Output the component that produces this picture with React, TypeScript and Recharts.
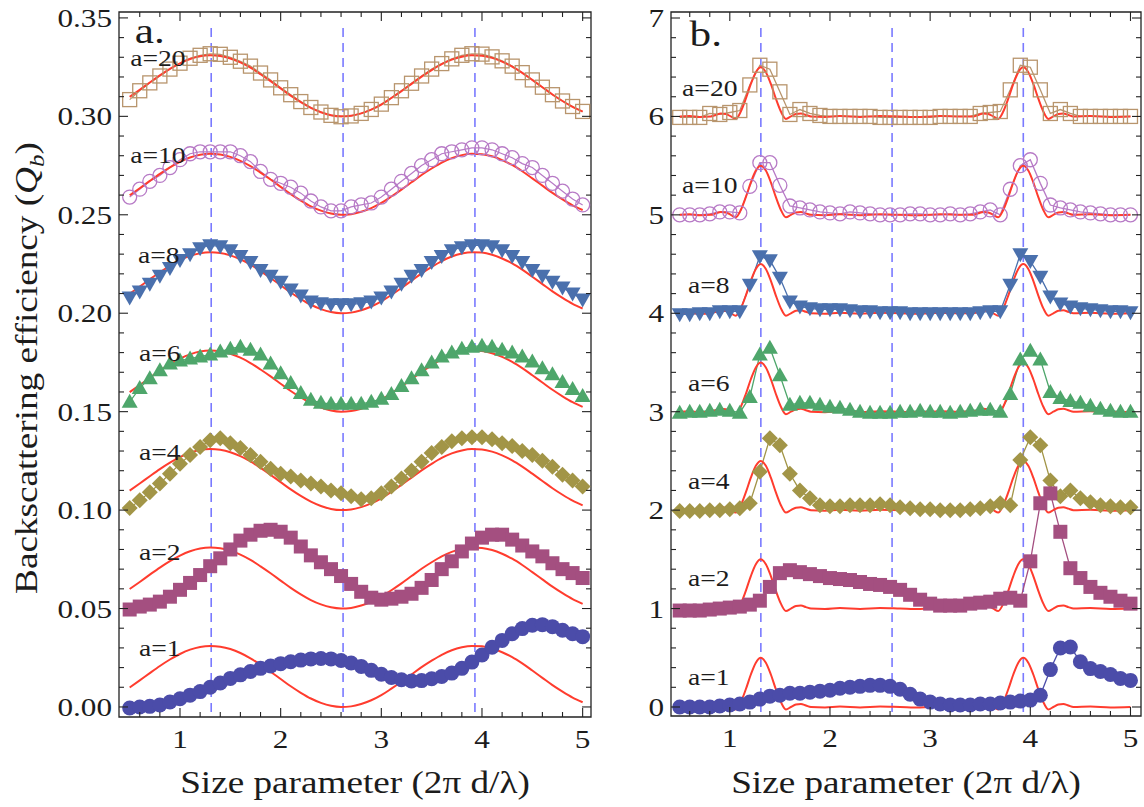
import React from "react";
import {
  LineChart,
  Line,
  XAxis,
  YAxis,
  ReferenceLine,
  ReferenceDot,
  ReferenceArea,
} from "recharts";

const FONT = '"Liberation Serif", "Times New Roman", Times, serif';
const SX = 1.2; // the figure's glyphs run wider than plain Times
const INK = "#222";
const RED = "#ff3c2e";
const DASH = "#7a7aff";

// size parameter of the sampled points (both panels)
const sizeGrid = [
  0.5, 0.6, 0.7, 0.8, 0.9, 1.0, 1.1, 1.2, 1.3, 1.4, 1.5, 1.6, 1.7, 1.8, 1.9, 2.0,
  2.1, 2.2, 2.3, 2.4, 2.5, 2.6, 2.7, 2.8, 2.9, 3.0, 3.1, 3.2, 3.3, 3.4, 3.5, 3.6,
  3.7, 3.8, 3.9, 4.0, 4.1, 4.2, 4.3, 4.4, 4.5, 4.6, 4.7, 4.8, 4.9, 5.0,
];

// ---- panel a: simulated points ----
const qbA20 = [0.3085, 0.313, 0.317, 0.3205, 0.324, 0.327, 0.3295, 0.331, 0.3318, 0.3315, 0.33, 0.328, 0.3255, 0.322, 0.3185, 0.3145, 0.311, 0.3075, 0.3045, 0.3022, 0.3005, 0.2998, 0.3002, 0.3015, 0.3035, 0.3062, 0.3095, 0.313, 0.3168, 0.3205, 0.324, 0.3268, 0.3292, 0.331, 0.3318, 0.3316, 0.3302, 0.3282, 0.3255, 0.3222, 0.3185, 0.3148, 0.311, 0.3078, 0.305, 0.3025];
const qbA10 = [0.259, 0.263, 0.267, 0.27, 0.274, 0.278, 0.281, 0.282, 0.282, 0.282, 0.282, 0.28, 0.277, 0.272, 0.268, 0.266, 0.264, 0.261, 0.257, 0.254, 0.252, 0.252, 0.254, 0.255, 0.256, 0.259, 0.263, 0.267, 0.271, 0.275, 0.278, 0.281, 0.282, 0.283, 0.284, 0.284, 0.283, 0.281, 0.279, 0.276, 0.274, 0.27, 0.266, 0.262, 0.258, 0.255];
const qbA8 = [0.208, 0.211, 0.215, 0.219, 0.223, 0.227, 0.23, 0.233, 0.2345, 0.234, 0.232, 0.229, 0.226, 0.222, 0.219, 0.216, 0.212, 0.209, 0.206, 0.205, 0.2045, 0.2045, 0.2045, 0.205, 0.206, 0.208, 0.211, 0.215, 0.219, 0.222, 0.226, 0.229, 0.232, 0.2335, 0.2345, 0.2345, 0.234, 0.232, 0.229, 0.226, 0.222, 0.219, 0.216, 0.213, 0.21, 0.207];
const qbA6 = [0.155, 0.162, 0.167, 0.171, 0.1745, 0.176, 0.177, 0.178, 0.179, 0.1805, 0.182, 0.183, 0.1815, 0.179, 0.1745, 0.1695, 0.1645, 0.1595, 0.156, 0.1545, 0.154, 0.154, 0.154, 0.154, 0.155, 0.1565, 0.159, 0.163, 0.167, 0.171, 0.175, 0.178, 0.18, 0.182, 0.183, 0.1835, 0.183, 0.1815, 0.18, 0.178, 0.1755, 0.172, 0.169, 0.165, 0.1615, 0.158];
const qbA4 = [0.101, 0.105, 0.109, 0.1135, 0.1185, 0.1235, 0.128, 0.132, 0.1355, 0.1365, 0.134, 0.1315, 0.128, 0.1245, 0.121, 0.1185, 0.117, 0.115, 0.1135, 0.112, 0.11, 0.1085, 0.107, 0.1055, 0.106, 0.1085, 0.112, 0.116, 0.12, 0.1245, 0.129, 0.132, 0.135, 0.1365, 0.137, 0.137, 0.136, 0.134, 0.1325, 0.13, 0.128, 0.125, 0.122, 0.118, 0.115, 0.112];
const qbA2 = [0.0495, 0.051, 0.052, 0.0535, 0.056, 0.0595, 0.063, 0.067, 0.0715, 0.0755, 0.08, 0.0845, 0.0875, 0.0895, 0.09, 0.089, 0.086, 0.0815, 0.077, 0.0735, 0.07, 0.0665, 0.0625, 0.0585, 0.0555, 0.0545, 0.055, 0.056, 0.0575, 0.0605, 0.0645, 0.07, 0.074, 0.079, 0.083, 0.086, 0.0875, 0.0875, 0.085, 0.082, 0.079, 0.0765, 0.073, 0.07, 0.068, 0.0655];
const qbA1 = [-0.0005, 0.0, 0.0003, 0.001, 0.0025, 0.0042, 0.006, 0.0078, 0.01, 0.0122, 0.0145, 0.0163, 0.018, 0.0196, 0.0208, 0.022, 0.023, 0.0238, 0.0244, 0.0246, 0.0244, 0.0236, 0.0223, 0.0206, 0.0186, 0.0166, 0.015, 0.0138, 0.0132, 0.0134, 0.0143, 0.0155, 0.0172, 0.0196, 0.0228, 0.0264, 0.0303, 0.0338, 0.0372, 0.0398, 0.0415, 0.0418, 0.0408, 0.039, 0.0372, 0.0357];

// ---- panel a: red model curves ----
const fitA20 = [0.3099, 0.3135, 0.3172, 0.3208, 0.3241, 0.3269, 0.3291, 0.3305, 0.331, 0.3306, 0.3294, 0.3274, 0.3247, 0.3214, 0.3179, 0.3142, 0.3105, 0.3072, 0.3043, 0.3021, 0.3006, 0.3, 0.3003, 0.3015, 0.3034, 0.306, 0.3093, 0.3128, 0.3165, 0.3202, 0.3235, 0.3265, 0.3288, 0.3303, 0.331, 0.3308, 0.3297, 0.3278, 0.3253, 0.3221, 0.3185, 0.3148, 0.3111, 0.3078, 0.3048, 0.3024];
const fitA10 = [0.2599, 0.2635, 0.2672, 0.2708, 0.2741, 0.2769, 0.2791, 0.2805, 0.281, 0.2806, 0.2794, 0.2774, 0.2747, 0.2714, 0.2679, 0.2642, 0.2605, 0.2572, 0.2543, 0.2521, 0.2506, 0.25, 0.2503, 0.2515, 0.2534, 0.256, 0.2593, 0.2628, 0.2665, 0.2702, 0.2735, 0.2765, 0.2788, 0.2803, 0.281, 0.2808, 0.2797, 0.2778, 0.2753, 0.2721, 0.2685, 0.2648, 0.2611, 0.2578, 0.2548, 0.2524];
const fitA8 = [0.2099, 0.2135, 0.2172, 0.2208, 0.2241, 0.2269, 0.2291, 0.2305, 0.231, 0.2306, 0.2294, 0.2274, 0.2247, 0.2214, 0.2179, 0.2142, 0.2105, 0.2072, 0.2043, 0.2021, 0.2006, 0.2, 0.2003, 0.2015, 0.2034, 0.206, 0.2093, 0.2128, 0.2165, 0.2202, 0.2235, 0.2265, 0.2288, 0.2303, 0.231, 0.2308, 0.2297, 0.2278, 0.2253, 0.2221, 0.2185, 0.2148, 0.2111, 0.2078, 0.2048, 0.2024];
const fitA6 = [0.1599, 0.1635, 0.1672, 0.1708, 0.1741, 0.1769, 0.1791, 0.1805, 0.181, 0.1806, 0.1794, 0.1774, 0.1747, 0.1714, 0.1679, 0.1642, 0.1605, 0.1572, 0.1543, 0.1521, 0.1506, 0.15, 0.1503, 0.1515, 0.1534, 0.156, 0.1593, 0.1628, 0.1665, 0.1702, 0.1735, 0.1765, 0.1788, 0.1803, 0.181, 0.1808, 0.1797, 0.1778, 0.1753, 0.1721, 0.1685, 0.1648, 0.1611, 0.1578, 0.1548, 0.1524];
const fitA4 = [0.1099, 0.1135, 0.1172, 0.1208, 0.1241, 0.1269, 0.1291, 0.1305, 0.131, 0.1306, 0.1294, 0.1274, 0.1247, 0.1214, 0.1179, 0.1142, 0.1105, 0.1072, 0.1043, 0.1021, 0.1006, 0.1, 0.1003, 0.1015, 0.1034, 0.106, 0.1093, 0.1128, 0.1165, 0.1202, 0.1235, 0.1265, 0.1288, 0.1303, 0.131, 0.1308, 0.1297, 0.1278, 0.1253, 0.1221, 0.1185, 0.1148, 0.1111, 0.1078, 0.1048, 0.1024];
const fitA2 = [0.0599, 0.0635, 0.0672, 0.0708, 0.0741, 0.0769, 0.0791, 0.0805, 0.081, 0.0806, 0.0794, 0.0774, 0.0747, 0.0714, 0.0679, 0.0642, 0.0605, 0.0572, 0.0543, 0.0521, 0.0506, 0.05, 0.0503, 0.0515, 0.0534, 0.056, 0.0593, 0.0628, 0.0665, 0.0702, 0.0735, 0.0765, 0.0788, 0.0803, 0.081, 0.0808, 0.0797, 0.0778, 0.0753, 0.0721, 0.0685, 0.0648, 0.0611, 0.0578, 0.0548, 0.0524];
const fitA1 = [0.0099, 0.0135, 0.0172, 0.0208, 0.0241, 0.0269, 0.0291, 0.0305, 0.031, 0.0306, 0.0294, 0.0274, 0.0247, 0.0214, 0.0179, 0.0142, 0.0105, 0.0072, 0.0043, 0.0021, 0.0006, 0.0, 0.0003, 0.0015, 0.0034, 0.006, 0.0093, 0.0128, 0.0165, 0.0202, 0.0235, 0.0265, 0.0288, 0.0303, 0.031, 0.0308, 0.0297, 0.0278, 0.0253, 0.0221, 0.0185, 0.0148, 0.0111, 0.0078, 0.0048, 0.0024];

// ---- panel b: simulated points ----
const qbB20 = [5.99, 5.99, 5.99, 6.03, 6.02, 6.04, 6.06, 6.32, 6.52, 6.48, 6.25, 6.02, 6.07, 6.03, 6.01, 6.0, 6.0, 6.0, 6.0, 6.0, 5.99, 5.99, 5.99, 5.99, 5.99, 5.99, 6.0, 6.0, 6.0, 6.0, 6.03, 6.04, 6.05, 6.27, 6.52, 6.5, 6.27, 6.03, 6.07, 6.03, 6.0, 6.0, 6.0, 6.0, 6.0, 6.0];
const qbB10 = [5.0, 5.0, 5.0, 5.01, 5.03, 5.03, 5.02, 5.29, 5.53, 5.53, 5.3, 5.09, 5.07, 5.05, 5.03, 5.02, 5.01, 5.03, 5.02, 5.01, 5.0, 5.0, 5.0, 5.01, 5.01, 5.0, 5.0, 5.01, 5.0, 5.01, 5.03, 5.05, 5.0, 5.26, 5.5, 5.56, 5.32, 5.1, 5.07, 5.05, 5.03, 5.02, 5.01, 5.0, 5.0, 5.0];
const qbB8 = [3.99, 3.99, 4.0, 4.0, 4.02, 4.02, 4.02, 4.29, 4.58, 4.54, 4.36, 4.12, 4.07, 4.05, 4.04, 4.04, 4.04, 4.03, 4.02, 4.02, 4.01, 4.01, 4.01, 4.0, 4.0, 4.0, 4.0, 4.0, 4.0, 4.0, 4.01, 4.02, 4.02, 4.29, 4.6, 4.53, 4.37, 4.17, 4.1, 4.07, 4.05, 4.04, 4.03, 4.02, 4.02, 4.01];
const qbB6 = [2.99, 3.0, 3.0, 3.01, 3.02, 3.01, 2.99, 3.15, 3.58, 3.65, 3.37, 3.07, 3.09, 3.09, 3.07, 3.05, 3.04, 3.02, 3.0, 2.99, 2.99, 2.99, 3.0, 3.0, 3.01, 3.0, 3.0, 2.99, 3.0, 3.01, 3.02, 3.02, 3.0, 3.18, 3.53, 3.62, 3.53, 3.2, 3.14, 3.11, 3.09, 3.06, 3.03, 3.01, 3.0, 3.0];
const qbB4 = [1.99, 1.99, 1.99, 2.0, 2.0, 2.01, 2.02, 2.07, 2.39, 2.73, 2.66, 2.37, 2.2, 2.12, 2.05, 2.04, 2.04, 2.05, 2.05, 2.05, 2.06, 2.05, 2.03, 2.02, 2.01, 2.01, 2.0, 2.0, 2.0, 2.01, 2.02, 2.04, 2.07, 2.05, 2.51, 2.74, 2.66, 2.3, 2.14, 2.2, 2.12, 2.08, 2.05, 2.04, 2.03, 2.03];
const qbB2 = [0.98, 0.98, 0.98, 0.99, 1.0, 1.01, 1.02, 1.04, 1.08, 1.22, 1.36, 1.39, 1.37, 1.35, 1.33, 1.31, 1.3, 1.29, 1.27, 1.25, 1.24, 1.22, 1.19, 1.14, 1.09, 1.05, 1.03, 1.03, 1.03, 1.05, 1.06, 1.07, 1.1, 1.11, 1.08, 1.48, 2.07, 2.17, 1.78, 1.41, 1.31, 1.22, 1.16, 1.12, 1.08, 1.05];
const qbB1 = [0.0, 0.0, 0.0, 0.0, 0.01, 0.02, 0.03, 0.05, 0.08, 0.11, 0.12, 0.14, 0.14, 0.15, 0.16, 0.17, 0.19, 0.2, 0.21, 0.22, 0.22, 0.21, 0.18, 0.13, 0.08, 0.05, 0.03, 0.02, 0.02, 0.02, 0.03, 0.03, 0.04, 0.05, 0.06, 0.07, 0.12, 0.38, 0.6, 0.61, 0.46, 0.39, 0.36, 0.33, 0.29, 0.27];

// ---- panel b: red model curves (denser around the two resonances) ----
const fitGridB = [
  0.5, 0.6, 0.7, 0.81, 0.86, 0.91, 0.96, 1.01, 1.06, 1.11, 1.16, 1.21, 1.26, 1.31,
  1.36, 1.41, 1.46, 1.51, 1.56, 1.61, 1.66, 1.71, 1.76, 1.81, 1.95, 2.1, 2.3, 2.5,
  2.7, 2.9, 3.1, 3.3, 3.43, 3.48, 3.53, 3.58, 3.63, 3.68, 3.73, 3.78, 3.83, 3.88,
  3.93, 3.98, 4.03, 4.08, 4.13, 4.18, 4.23, 4.28, 4.33, 4.38, 4.43, 4.6, 4.8, 5.0,
];
const fitB20 = [6, 6.005, 5.995, 6, 6.015, 6.03, 6.025, 6, 5.975, 6.05, 6.18, 6.33, 6.45, 6.5, 6.45, 6.33, 6.18, 6.05, 5.975, 6, 6.025, 6.03, 6.015, 6, 5.995, 6.005, 5.995, 6.005, 6, 5.995, 6.005, 6, 6, 6.015, 6.03, 6.025, 6, 5.975, 6.05, 6.18, 6.33, 6.45, 6.5, 6.45, 6.33, 6.18, 6.05, 5.975, 6, 6.025, 6.03, 6.015, 6, 6.005, 5.995, 6];
const fitB10 = [5, 5.005, 4.995, 5, 5.015, 5.03, 5.025, 5, 4.975, 5.05, 5.18, 5.33, 5.45, 5.5, 5.45, 5.33, 5.18, 5.05, 4.975, 5, 5.025, 5.03, 5.015, 5, 4.995, 5.005, 4.995, 5.005, 5, 4.995, 5.005, 5, 5, 5.015, 5.03, 5.025, 5, 4.975, 5.05, 5.18, 5.33, 5.45, 5.5, 5.45, 5.33, 5.18, 5.05, 4.975, 5, 5.025, 5.03, 5.015, 5, 5.005, 4.995, 5];
const fitB8 = [4, 4.005, 3.995, 4, 4.015, 4.03, 4.025, 4, 3.975, 4.05, 4.18, 4.33, 4.45, 4.5, 4.45, 4.33, 4.18, 4.05, 3.975, 4, 4.025, 4.03, 4.015, 4, 3.995, 4.005, 3.995, 4.005, 4, 3.995, 4.005, 4, 4, 4.015, 4.03, 4.025, 4, 3.975, 4.05, 4.18, 4.33, 4.45, 4.5, 4.45, 4.33, 4.18, 4.05, 3.975, 4, 4.025, 4.03, 4.015, 4, 4.005, 3.995, 4];
const fitB6 = [3, 3.005, 2.995, 3, 3.015, 3.03, 3.025, 3, 2.975, 3.05, 3.18, 3.33, 3.45, 3.5, 3.45, 3.33, 3.18, 3.05, 2.975, 3, 3.025, 3.03, 3.015, 3, 2.995, 3.005, 2.995, 3.005, 3, 2.995, 3.005, 3, 3, 3.015, 3.03, 3.025, 3, 2.975, 3.05, 3.18, 3.33, 3.45, 3.5, 3.45, 3.33, 3.18, 3.05, 2.975, 3, 3.025, 3.03, 3.015, 3, 3.005, 2.995, 3];
const fitB4 = [2, 2.005, 1.995, 2, 2.015, 2.03, 2.025, 2, 1.975, 2.05, 2.18, 2.33, 2.45, 2.5, 2.45, 2.33, 2.18, 2.05, 1.975, 2, 2.025, 2.03, 2.015, 2, 1.995, 2.005, 1.995, 2.005, 2, 1.995, 2.005, 2, 2, 2.015, 2.03, 2.025, 2, 1.975, 2.05, 2.18, 2.33, 2.45, 2.5, 2.45, 2.33, 2.18, 2.05, 1.975, 2, 2.025, 2.03, 2.015, 2, 2.005, 1.995, 2];
const fitB2 = [1, 1.005, 0.995, 1, 1.015, 1.03, 1.025, 1, 0.975, 1.05, 1.18, 1.33, 1.45, 1.5, 1.45, 1.33, 1.18, 1.05, 0.975, 1, 1.025, 1.03, 1.015, 1, 0.995, 1.005, 0.995, 1.005, 1, 0.995, 1.005, 1, 1, 1.015, 1.03, 1.025, 1, 0.975, 1.05, 1.18, 1.33, 1.45, 1.5, 1.45, 1.33, 1.18, 1.05, 0.975, 1, 1.025, 1.03, 1.015, 1, 1.005, 0.995, 1];
const fitB1 = [0, 0.005, -0.005, 0, 0.015, 0.03, 0.025, 0, -0.025, 0.05, 0.18, 0.33, 0.45, 0.5, 0.45, 0.33, 0.18, 0.05, -0.025, 0, 0.025, 0.03, 0.015, 0, -0.005, 0.005, -0.005, 0.005, 0, -0.005, 0.005, 0, 0, 0.015, 0.03, 0.025, 0, -0.025, 0.05, 0.18, 0.33, 0.45, 0.5, 0.45, 0.33, 0.18, 0.05, -0.025, 0, 0.025, 0.03, 0.015, 0, 0.005, -0.005, 0];

// resonance positions (dashed guides)
const resonances = [1.31, 2.62, 3.93];

const xTicks = [0.6, 0.8, 1, 1.2, 1.4, 1.6, 1.8, 2, 2.2, 2.4, 2.6, 2.8, 3, 3.2, 3.4, 3.6, 3.8, 4, 4.2, 4.4, 4.6, 4.8, 5];
const yTicksA = [0, 0.01, 0.02, 0.03, 0.04, 0.05, 0.06, 0.07, 0.08, 0.09, 0.1, 0.11, 0.12, 0.13, 0.14, 0.15, 0.16, 0.17, 0.18, 0.19, 0.2, 0.21, 0.22, 0.23, 0.24, 0.25, 0.26, 0.27, 0.28, 0.29, 0.3, 0.31, 0.32, 0.33, 0.34, 0.35];
const yTicksB = [0, 0.2, 0.4, 0.6, 0.8, 1, 1.2, 1.4, 1.6, 1.8, 2, 2.2, 2.4, 2.6, 2.8, 3, 3.2, 3.4, 3.6, 3.8, 4, 4.2, 4.4, 4.6, 4.8, 5, 5.2, 5.4, 5.6, 5.8, 6, 6.2, 6.4, 6.6, 6.8, 7];

const seriesLabels = ["a=20", "a=10", "a=8", "a=6", "a=4", "a=2", "a=1"];
const SERIES = [
  { id: "20", shape: "openSquare", color: "#b8956d" },
  { id: "10", shape: "openCircle", color: "#b77ac6" },
  { id: "8", shape: "triDown", color: "#4a70ad" },
  { id: "6", shape: "triUp", color: "#4ea66b" },
  { id: "4", shape: "diamond", color: "#a29547" },
  { id: "2", shape: "square", color: "#a44f80" },
  { id: "1", shape: "circle", color: "#4b4ca9" },
];

// where the a=.. tags sit (data coordinates)
const tagPosA = [
  [0.78, 0.3297], [0.78, 0.2804], [0.79, 0.2296], [0.8, 0.1798], [0.8, 0.1295], [0.8, 0.0787], [0.8, 0.03],
];
const tagPosB = [
  [0.8, 6.29], [0.8, 5.3], [0.79, 4.29], [0.79, 3.29], [0.79, 2.29], [0.79, 1.31], [0.79, 0.3],
];

const rowsA = sizeGrid.map((x, i) => ({
  x,
  q20: qbA20[i], q10: qbA10[i], q8: qbA8[i], q6: qbA6[i], q4: qbA4[i], q2: qbA2[i], q1: qbA1[i],
  f20: fitA20[i], f10: fitA10[i], f8: fitA8[i], f6: fitA6[i], f4: fitA4[i], f2: fitA2[i], f1: fitA1[i],
}));
const rowsB = sizeGrid.map((x, i) => ({
  x,
  q20: qbB20[i], q10: qbB10[i], q8: qbB8[i], q6: qbB6[i], q4: qbB4[i], q2: qbB2[i], q1: qbB1[i],
}));
const fitRowsB = fitGridB.map((x, i) => ({
  x,
  f20: fitB20[i], f10: fitB10[i], f8: fitB8[i], f6: fitB6[i], f4: fitB4[i], f2: fitB2[i], f1: fitB1[i],
}));

function Txt({ x, y, size, anchor = "middle", rotate = 0, children }: any) {
  return (
    <text
      transform={`translate(${x} ${y}) rotate(${rotate}) scale(${SX} 1)`}
      textAnchor={anchor}
      fontSize={size}
      fontFamily={FONT}
      fill="#1c1c1c"
    >
      {children}
    </text>
  );
}

function makeDot(shape: string, color: string) {
  return (p: any) => {
    const { cx, cy, index } = p;
    const k = `d${index}`;
    if (typeof cx !== "number" || typeof cy !== "number") return <g key={k} />;
    switch (shape) {
      case "openSquare":
        return <rect key={k} x={cx - 7} y={cy - 7} width={14} height={14} fill="none" stroke={color} strokeWidth={1.3} />;
      case "openCircle":
        return <circle key={k} cx={cx} cy={cy} r={7} fill="none" stroke={color} strokeWidth={1.3} />;
      case "triDown":
        return <polygon key={k} points={`${cx - 8},${cy - 6} ${cx + 8},${cy - 6} ${cx},${cy + 8}`} fill={color} />;
      case "triUp":
        return <polygon key={k} points={`${cx - 8},${cy + 6} ${cx + 8},${cy + 6} ${cx},${cy - 8}`} fill={color} />;
      case "diamond":
        return <polygon key={k} points={`${cx},${cy - 8} ${cx + 8},${cy} ${cx},${cy + 8} ${cx - 8},${cy}`} fill={color} />;
      case "square":
        return <rect key={k} x={cx - 7} y={cy - 7} width={14} height={14} fill={color} />;
      default:
        return <circle key={k} cx={cx} cy={cy} r={7.5} fill={color} />;
    }
  };
}

// inward ticks on bottom + top, labels on integers
function xTick(top: number, bottom: number) {
  return (p: any) => {
    const v = p.payload.value;
    const major = Math.abs(v - Math.round(v)) < 1e-6;
    const len = major ? 9 : 5;
    return (
      <g>
        <line x1={p.x} x2={p.x} y1={bottom} y2={bottom - len} stroke={INK} strokeWidth={1.1} />
        <line x1={p.x} x2={p.x} y1={top} y2={top + len} stroke={INK} strokeWidth={1.1} />
        {major ? <Txt x={p.x} y={bottom + 31} size={26}>{String(Math.round(v))}</Txt> : null}
      </g>
    );
  };
}

// inward ticks on left + right
function yTick(left: number, right: number, isMajor: (v: number) => boolean, fmt: (v: number) => string) {
  return (p: any) => {
    const v = p.payload.value;
    const major = isMajor(v);
    const len = major ? 9 : 5;
    return (
      <g>
        <line x1={left} x2={left + len} y1={p.y} y2={p.y} stroke={INK} strokeWidth={1.1} />
        <line x1={right} x2={right - len} y1={p.y} y2={p.y} stroke={INK} strokeWidth={1.1} />
        {major ? <Txt x={left - 7} y={p.y + 9} size={26} anchor="end">{fmt(v)}</Txt> : null}
      </g>
    );
  };
}

const tag = (text: string, size: number) => (p: any) => (
  <Txt x={p.cx} y={p.cy + size * 0.34} size={size}>{text}</Txt>
);

const X_DOMAIN_A: [number, number] = [0.394, 5.083];
const Y_DOMAIN_A: [number, number] = [-0.0051, 0.353];
const X_DOMAIN_B: [number, number] = [0.413, 5.105];
const Y_DOMAIN_B: [number, number] = [-0.0915, 7.061];

function PanelA() {
  const R = 591, T = 12, B = 717, L = 119;
  return (
    <LineChart width={600} height={807} data={rowsA} margin={{ top: T, right: 600 - R, bottom: 0, left: 0 }}>
      <XAxis
        type="number"
        dataKey="x"
        domain={X_DOMAIN_A}
        allowDataOverflow
        ticks={xTicks}
        interval={0}
        tick={xTick(T, B)}
        tickLine={false}
        axisLine={false}
        height={807 - B}
      />
      <YAxis
        type="number"
        domain={Y_DOMAIN_A}
        allowDataOverflow
        ticks={yTicksA}
        interval={0}
        width={L}
        tick={yTick(L, R, (v) => Math.abs(v * 20 - Math.round(v * 20)) < 1e-6, (v) => v.toFixed(2))}
        tickLine={false}
        axisLine={false}
      />
      <ReferenceArea
        x1={X_DOMAIN_A[0]}
        x2={X_DOMAIN_A[1]}
        y1={Y_DOMAIN_A[0]}
        y2={Y_DOMAIN_A[1]}
        fill="none"
        stroke={INK}
        strokeWidth={1.3}
        ifOverflow="visible"
      />
      {resonances.map((r) => (
        <ReferenceLine
          key={`ra${r}`}
          segment={[{ x: r, y: -0.0025 }, { x: r, y: 0.3464 }]}
          stroke={DASH}
          strokeWidth={1.6}
          strokeDasharray="9 6"
        />
      ))}
      {SERIES.map((s) => (
        <Line
          key={`qa${s.id}`}
          type="linear"
          dataKey={`q${s.id}`}
          stroke={s.color}
          strokeWidth={1.2}
          dot={makeDot(s.shape, s.color)}
          activeDot={false}
          isAnimationActive={false}
        />
      ))}
      {SERIES.map((s) => (
        <Line
          key={`fa${s.id}`}
          type="monotone"
          dataKey={`f${s.id}`}
          stroke={RED}
          strokeWidth={2}
          dot={false}
          activeDot={false}
          isAnimationActive={false}
        />
      ))}
      {seriesLabels.map((t, i) => (
        <ReferenceDot key={`ta${t}`} x={tagPosA[i][0]} y={tagPosA[i][1]} r={1} shape={tag(t, 23)} />
      ))}
      <ReferenceDot x={0.7} y={0.3435} r={1} shape={tag("a.", 36)} />
    </LineChart>
  );
}

function PanelB() {
  const R = 541, T = 12, B = 716, L = 71;
  return (
    <LineChart width={544} height={807} data={rowsB} margin={{ top: T, right: 544 - R, bottom: 0, left: 0 }}>
      <XAxis
        type="number"
        dataKey="x"
        domain={X_DOMAIN_B}
        allowDataOverflow
        ticks={xTicks}
        interval={0}
        tick={xTick(T, B)}
        tickLine={false}
        axisLine={false}
        height={807 - B}
      />
      <YAxis
        type="number"
        domain={Y_DOMAIN_B}
        allowDataOverflow
        ticks={yTicksB}
        interval={0}
        width={L}
        tick={yTick(L, R, (v) => Math.abs(v - Math.round(v)) < 1e-6, (v) => String(Math.round(v)))}
        tickLine={false}
        axisLine={false}
      />
      <ReferenceArea
        x1={X_DOMAIN_B[0]}
        x2={X_DOMAIN_B[1]}
        y1={Y_DOMAIN_B[0]}
        y2={Y_DOMAIN_B[1]}
        fill="none"
        stroke={INK}
        strokeWidth={1.3}
        ifOverflow="visible"
      />
      {resonances.map((r) => (
        <ReferenceLine
          key={`rb${r}`}
          segment={[{ x: r, y: -0.05 }, { x: r, y: 6.94 }]}
          stroke={DASH}
          strokeWidth={1.6}
          strokeDasharray="9 6"
        />
      ))}
      {SERIES.map((s) => (
        <Line
          key={`qb${s.id}`}
          type="linear"
          dataKey={`q${s.id}`}
          stroke={s.color}
          strokeWidth={1.3}
          dot={makeDot(s.shape, s.color)}
          activeDot={false}
          isAnimationActive={false}
        />
      ))}
      {SERIES.map((s) => (
        <Line
          key={`fb${s.id}`}
          data={fitRowsB}
          type="monotone"
          dataKey={`f${s.id}`}
          stroke={RED}
          strokeWidth={2}
          dot={false}
          activeDot={false}
          isAnimationActive={false}
        />
      ))}
      {seriesLabels.map((t, i) => (
        <ReferenceDot key={`tb${t}`} x={tagPosB[i][0]} y={tagPosB[i][1]} r={1} shape={tag(t, 23)} />
      ))}
      <ReferenceDot x={0.76} y={6.84} r={1} shape={tag("b.", 36)} />
    </LineChart>
  );
}

// axis titles drawn over both panels
function Titles() {
  return (
    <svg width={1144} height={807} style={{ position: "absolute", left: 0, top: 0, pointerEvents: "none" }}>
      <Txt x={355} y={793} size={31}>Size parameter (2π d/λ)</Txt>
      <Txt x={906} y={793} size={31}>Size parameter (2π d/λ)</Txt>
      <Txt x={37} y={368} size={31} rotate={-90}>
        Backscattering efficiency (<tspan fontStyle="italic">Q</tspan>
        <tspan fontStyle="italic" fontSize={21} dy={7}>b</tspan>
        <tspan dy={-7}>)</tspan>
      </Txt>
    </svg>
  );
}

export default function App() {
  return (
    <div style={{ position: "absolute", left: 0, top: 0, width: 1144, height: 807, background: "#fff", fontFamily: FONT }}>
      <div style={{ position: "absolute", left: 0, top: 0 }}>
        <PanelA />
      </div>
      <div style={{ position: "absolute", left: 600, top: 0 }}>
        <PanelB />
      </div>
      <Titles />
    </div>
  );
}
